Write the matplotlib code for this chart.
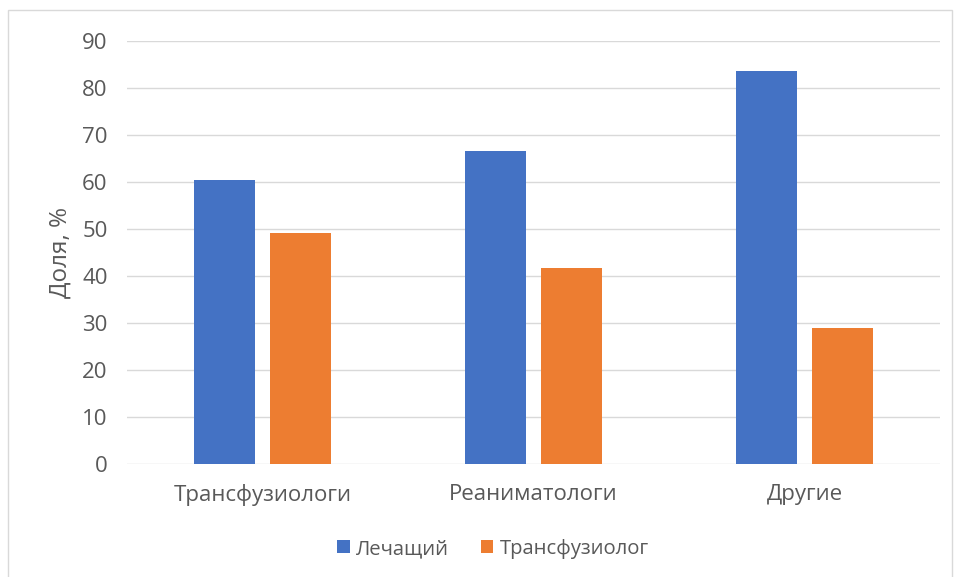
import matplotlib

matplotlib.use("Agg")
import matplotlib.pyplot as plt
import numpy as np
from matplotlib.patches import Rectangle

plt.rcParams["font.family"] = ["Open Sans", "DejaVu Sans"]

# ── Data ──────────────────────────────────────────────────────────────────────
categories = ["Трансфузиологи", "Реаниматологи", "Другие"]
series_names = ["Лечащий", "Трансфузиолог"]
treating = [60.4, 66.7, 83.6]
transfusiologist = [49.1, 41.6, 29.0]
y_ticks = list(range(0, 91, 10))

BLUE = "#4472C4"
ORANGE = "#ED7D31"
TEXT = "#595959"
GRID = "#D9D9D9"

# ── Figure ────────────────────────────────────────────────────────────────────
fig = plt.figure(figsize=(9.55, 5.77), dpi=100)
ax = fig.add_axes([127 / 955, 1 - 464 / 577, 813 / 955, 423 / 577])

# light chart-area border
fig.patches.append(Rectangle((8 / 955, -0.01), 944 / 955, 1 - 10 / 577 + 0.01,
                             transform=fig.transFigure, fill=False,
                             edgecolor=GRID, lw=1))

x = np.arange(len(categories))
width = 0.225
offset = 0.142
ax.bar(x - offset, treating, width, color=BLUE, label=series_names[0], zorder=3)
ax.bar(x + offset, transfusiologist, width, color=ORANGE, label=series_names[1], zorder=3)

ax.set_xlim(-0.5, len(categories) - 0.5)
ax.set_ylim(0, 90)
ax.set_yticks(y_ticks)
ax.set_xticks(x)
ax.set_xticklabels(categories)
ax.grid(axis="y", color=GRID, lw=1, zorder=0)
for s in ax.spines.values():
    s.set_visible(False)
ax.tick_params(axis="y", length=0, pad=14, labelsize=16, labelcolor=TEXT)
ax.tick_params(axis="x", length=0, pad=14.5, labelsize=16, labelcolor=TEXT)

ax.set_ylabel("Доля, %", fontsize=17.5, color=TEXT, labelpad=7)

leg = fig.legend(loc="center", bbox_to_anchor=(493 / 955, 1 - 549 / 577), ncol=2,
                 frameon=False, fontsize=14.6, handlelength=0.6, handleheight=0.6,
                 handletextpad=0.3, columnspacing=1.6)
for t in leg.get_texts():
    t.set_color(TEXT)

fig.savefig("out.png", dpi=100)
